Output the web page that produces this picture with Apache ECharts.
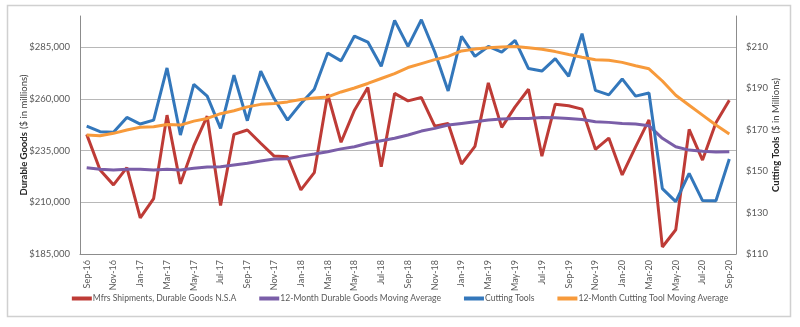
<!DOCTYPE html>
<html>
<head>
<meta charset="utf-8">
<script src="https://cdn.jsdelivr.net/npm/echarts@6/dist/echarts.min.js"></script>
<style>
html,body{margin:0;padding:0;background:#fff;}
#c{width:800px;height:327px;}
</style>
</head>
<body>
<div id="c"></div>
<script>
var months = ['Sep-16','Oct-16','Nov-16','Dec-16','Jan-17','Feb-17','Mar-17','Apr-17','May-17','Jun-17','Jul-17','Aug-17',
  'Sep-17','Oct-17','Nov-17','Dec-17','Jan-18','Feb-18','Mar-18','Apr-18','May-18','Jun-18','Jul-18','Aug-18',
  'Sep-18','Oct-18','Nov-18','Dec-18','Jan-19','Feb-19','Mar-19','Apr-19','May-19','Jun-19','Jul-19','Aug-19',
  'Sep-19','Oct-19','Nov-19','Dec-19','Jan-20','Feb-20','Mar-20','Apr-20','May-20','Jun-20','Jul-20','Aug-20','Sep-20'];

var durableGoods = [242800,225600,218400,226700,202500,211800,252100,218900,237200,251600,208400,242800,
  244900,238500,232300,232000,216000,224300,262200,239000,254500,265400,227200,262600,
  259000,260600,246800,248100,228500,237000,267700,246200,256100,264600,232300,257400,
  256600,255000,235600,241000,223200,236800,249800,188400,196700,245200,230400,248400,259300];

var durableMA = [226700,225900,225600,225900,226000,225600,225900,225600,226400,227000,227200,228000,
  228800,229900,230900,231000,232300,233300,234400,235800,236800,238500,239700,240900,
  242500,244400,245700,247300,248100,248900,249700,250200,250500,250500,251000,250800,
  250500,250000,248900,248600,248100,247800,247000,240900,236800,235200,234600,234300,234400];

var cuttingTools = [171.8,169.1,168.8,176.0,172.8,174.7,199.9,167.5,192.0,186.3,170.7,196.4,
  174.4,198.3,185.1,174.7,182.7,189.6,207.1,203.3,215.3,212.4,200.7,222.9,
  210.3,223.2,207.6,188.8,215.2,205.5,210.3,207.6,213.2,199.6,198.4,204.4,
  195.9,216.5,189.1,186.9,194.6,186.3,187.8,141.6,135.3,149.0,135.8,135.7,155.9];

var cuttingMA = [167.5,167.1,168.3,169.9,171.2,171.5,172.6,172.3,174.2,175.5,177.8,179.2,
  181.1,182.3,182.7,183.5,184.7,185.4,185.9,188.3,190.2,192.4,194.8,197.2,
  200.1,202.0,203.9,205.5,208.1,209.0,209.7,210.0,210.3,209.7,208.9,207.8,
  206.4,205.1,203.9,203.6,202.6,201.0,199.5,193.6,186.7,181.9,177.1,172.3,168.0];

var seriesNames = ['Mfrs Shipments, Durable Goods N.S.A','12-Month Durable Goods Moving Average','Cutting Tools','12-Month Cutting Tool Moving Average'];
var colors = ['#be3b36','#7a5ea8','#3377bb','#f79a3b'];

var FONT = 'Lato, "Open Sans", sans-serif';
var chart = echarts.init(document.getElementById('c'), null, {renderer:'canvas'});

function mkLine(name, data, axis, color){
  return {name:name, type:'line', data:data, yAxisIndex:axis, symbol:'none', smooth:false,
    lineStyle:{color:color, width:3}, itemStyle:{color:color}, animation:false};
}

chart.setOption({
  animation:false,
  color: colors,
  textStyle:{fontFamily:FONT},
  graphic:[{type:'rect', shape:{x:7.5, y:5.5, width:783, height:311}, style:{fill:'none', stroke:'#d0d0d0', lineWidth:1.5}, silent:true}],
  grid:{left:80, right:64, top:16, bottom:73, containLabel:false},
  legend:{
    bottom:19, left:'center', itemGap:23, itemWidth:20, itemHeight:4, icon:'rect',
    textStyle:{fontFamily:FONT, fontSize:8.6, color:'#595959', padding:[0,0,0,-4]},
    data: seriesNames
  },
  xAxis:{
    type:'category', data:months, boundaryGap:true,
    axisLine:{lineStyle:{color:'#8c8c8c', width:1}},
    axisTick:{show:false},
    axisLabel:{interval:1, rotate:90, fontSize:9, color:'#595959', margin:6, fontFamily:FONT}
  },
  yAxis:[{
    type:'value', position:'left', min:185000, max:300000, interval:25000,
    name:'{b|Durable Goods} {n|($ in millions)}', nameLocation:'middle', nameGap:50, nameRotate:90,
    nameMoveOverlap:false,
    nameTextStyle:{rich:{b:{fontWeight:'bold', fontSize:9.5, color:'#262626', fontFamily:FONT}, n:{fontSize:9.5, color:'#404040', fontFamily:FONT}}},
    axisLine:{show:true, lineStyle:{color:'#8c8c8c'}},
    axisTick:{show:false},
    axisLabel:{showMaxLabel:false, fontSize:9.5, color:'#595959', margin:10, fontFamily:FONT,
      formatter:function(v){return '$' + v.toLocaleString('en-US');}},
    splitLine:{show:true, showMaxLine:false, lineStyle:{color:'#b8b8b8', width:1.2}}
  },{
    type:'value', position:'right', min:110, max:225, interval:20,
    name:'{b|Cutting Tools} {n|($ in Millions)}', nameLocation:'middle', nameGap:34, nameRotate:90,
    nameMoveOverlap:false,
    nameTextStyle:{rich:{b:{fontWeight:'bold', fontSize:9.5, color:'#262626', fontFamily:FONT}, n:{fontSize:9.5, color:'#404040', fontFamily:FONT}}},
    axisLine:{show:true, lineStyle:{color:'#8c8c8c'}},
    axisTick:{show:false},
    axisLabel:{showMaxLabel:false, fontSize:9.5, color:'#595959', margin:10, fontFamily:FONT,
      formatter:function(v){return '$' + v;}},
    splitLine:{show:false}
  }],
  series:[
    mkLine(seriesNames[0], durableGoods, 0, colors[0]),
    mkLine(seriesNames[1], durableMA, 0, colors[1]),
    mkLine(seriesNames[2], cuttingTools, 1, colors[2]),
    mkLine(seriesNames[3], cuttingMA, 1, colors[3])
  ]
});
</script>
</body>
</html>
